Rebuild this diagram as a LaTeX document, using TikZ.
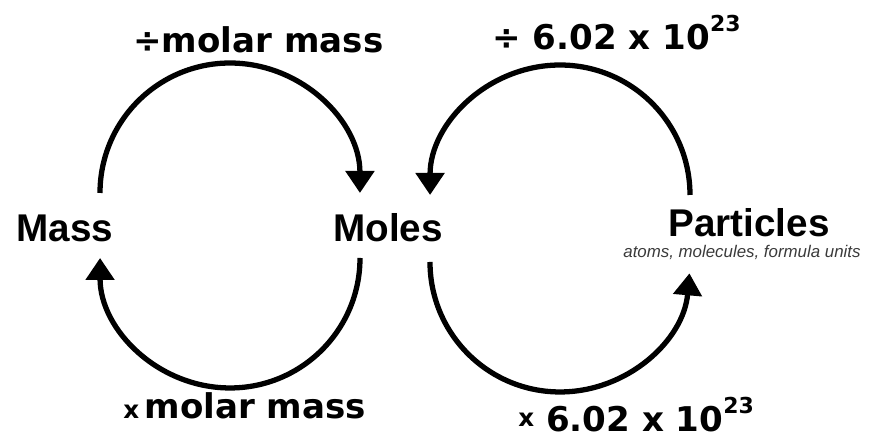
\documentclass[tikz,border=0pt]{standalone}
\usepackage{fontspec}
\setmainfont{Liberation Sans}
\newfontfamily\factorfont{DejaVu Sans}
\usepackage{xcolor}
\definecolor{notegray}{HTML}{3A3A3A}
\usepackage{tikz}
\usetikzlibrary{arrows.meta,positioning}
\newcommand{\powten}[1]{\raisebox{10.5pt}{\fontsize{12.5}{12.5}\selectfont #1}}
\newcommand{\timesx}{{\fontsize{14}{14}\selectfont x}}

\begin{document}
\begin{tikzpicture}[
  x=0.02cm, y=0.02cm,
  quantity/.style={font=\fontsize{22}{24}\selectfont\bfseries, inner sep=0pt,
                   anchor=base},
  factor/.style={font=\factorfont\bfseries\fontsize{19.4}{22}\selectfont,
                 inner sep=0pt, anchor=base west},
  note/.style={font=\itshape\fontsize{9.6}{11}\selectfont, text=notegray,
               inner sep=0pt},
  conv/.style={-{Triangle[length=0.44cm, width=0.56cm]}, line width=3pt}
]
\useasboundingbox (0,0) rectangle (870,438);
\node[quantity] (mass) at (65,196) {Mass};
\node[quantity] (moles) at (388,196) {Moles};
\node[quantity] (particles) at (749,201) {Particles};
\node[note, below=4pt of particles, xshift=-4pt] (kinds) {atoms, molecules, formula units};

\node[factor] (divmm) at (133,385) {÷molar mass};
\node[factor] (divna) at (492,388) {÷ 6.02 x 10\powten{23}};
\node[factor] (mulmm) at (123,19) {\timesx\hspace{3pt}molar mass};
\node[factor] (mulna) at (518,6) {\raisebox{3pt}{\timesx} 6.02 x 10\powten{23}};

% mass -> moles -> particles
\draw[conv] ([shift={(35,49)}]mass.base) arc[start angle=180, end angle=0, radius=2.6cm];
\draw[conv] ([shift={(42,-20)}]moles.base) arc[start angle=180, end angle=355, radius=2.6cm];
% particles -> moles -> mass
\draw[conv] ([shift={(-59,42)}]particles.base) arc[start angle=0, end angle=180, radius=2.6cm];
\draw[conv] ([shift={(-28,-16)}]moles.base) arc[start angle=0, end angle=-180, radius=2.6cm];
\end{tikzpicture}
\end{document}
